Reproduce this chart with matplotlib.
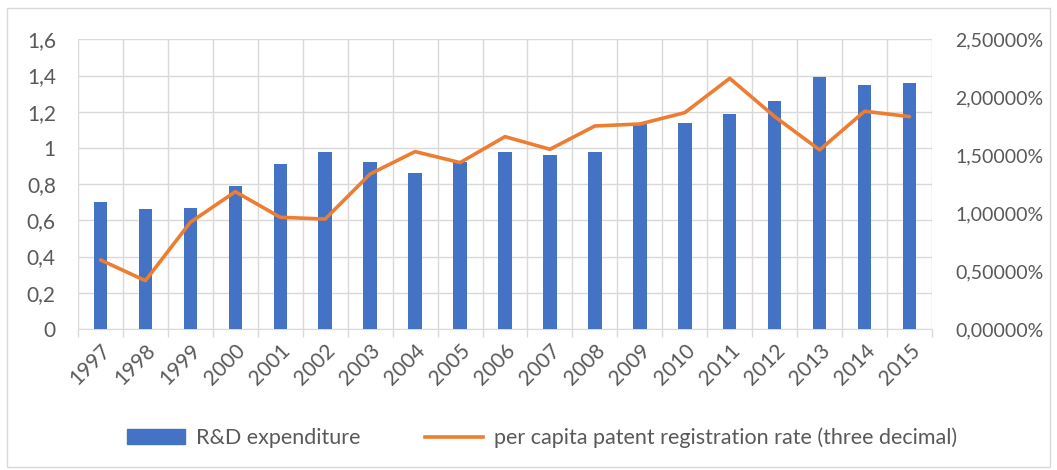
import numpy as np
import matplotlib.pyplot as plt
from matplotlib.patches import Rectangle
from matplotlib.lines import Line2D
from matplotlib.ticker import FuncFormatter, MultipleLocator

plt.rcParams['font.family'] = ['Lato', 'DejaVu Sans']

years = ['1997', '1998', '1999', '2000', '2001', '2002', '2003', '2004', '2005', '2006',
         '2007', '2008', '2009', '2010', '2011', '2012', '2013', '2014', '2015']
rd_expenditure = [0.70, 0.66, 0.67, 0.79, 0.91, 0.98, 0.92, 0.86, 0.92, 0.98,
                  0.96, 0.98, 1.13, 1.14, 1.19, 1.26, 1.39, 1.35, 1.36]
# patent registration rate, in percent
patent_rate = [0.596, 0.417, 0.921, 1.185, 0.964, 0.949, 1.338, 1.531, 1.436, 1.660,
               1.551, 1.752, 1.769, 1.867, 2.163, 1.833, 1.545, 1.879, 1.833]

blue = '#4472C4'
orange = '#ED7D31'
txt = '#595959'
grid = '#D9D9D9'
fs = 15

fig = plt.figure(figsize=(10.57, 4.70), dpi=100)
ax = fig.add_axes([78/1057, 1 - 329/470, (932 - 78)/1057, (329 - 39.3)/470])

x = np.arange(len(years))
ax.bar(x, rd_expenditure, width=0.3, color=blue, zorder=3)
ax.set_xlim(-0.5, len(years) - 0.5)
ax.set_ylim(0, 1.6)
ax.yaxis.set_major_locator(MultipleLocator(0.2))
ax.yaxis.set_major_formatter(FuncFormatter(lambda v, p: f"{round(v, 1):g}".replace('.', ',')))

ax.set_xticks(x)
ax.set_xticklabels(years, rotation=45, ha='right', rotation_mode='anchor')
ax.set_xticks(np.arange(-0.5, len(years)), minor=True)
ax.tick_params(axis='x', which='major', length=0, pad=8, labelsize=fs, labelcolor=txt)
ax.tick_params(axis='x', which='minor', length=6, color=grid, width=1)
ax.tick_params(axis='y', length=0, pad=16, labelsize=fs, labelcolor=txt)
ax.grid(axis='x', which='minor', color=grid, linewidth=1, zorder=0)
ax.grid(axis='y', which='major', color=grid, linewidth=1, zorder=0)
ax.set_axisbelow(True)
for s in ['top', 'left', 'right']:
    ax.spines[s].set_visible(False)
ax.spines['bottom'].set_color(grid)

ax2 = ax.twinx()
ax2.plot(x, patent_rate, color=orange, linewidth=2.6, zorder=4, solid_capstyle='round')
ax2.set_ylim(0, 2.5)
ax2.yaxis.set_major_locator(MultipleLocator(0.5))
ax2.yaxis.set_major_formatter(FuncFormatter(lambda v, p: f"{v:.5f}%".replace('.', ',')))
ax2.tick_params(axis='y', length=0, pad=17, labelsize=14, labelcolor=txt)
for s in ax2.spines.values():
    s.set_visible(False)

handles = [Rectangle((0, 0), 1, 1, color=blue),
           Line2D([0], [0], color=orange, linewidth=2.6)]
labels = ['R&D expenditure', 'per capita patent registration rate (three decimal)']
fig.legend(handles, labels, loc='center', bbox_to_anchor=(542/1057, 1 - 438/470),
           ncol=2, frameon=False, fontsize=15.5, labelcolor=txt,
           handlelength=2.7, handletextpad=0.5, columnspacing=3.0)

fig.patches.append(Rectangle((7/1057, 3/470), 1043/1057, 459/470, transform=fig.transFigure,
                             fill=False, edgecolor=grid, linewidth=1))

fig.savefig('out.png', dpi=100)
